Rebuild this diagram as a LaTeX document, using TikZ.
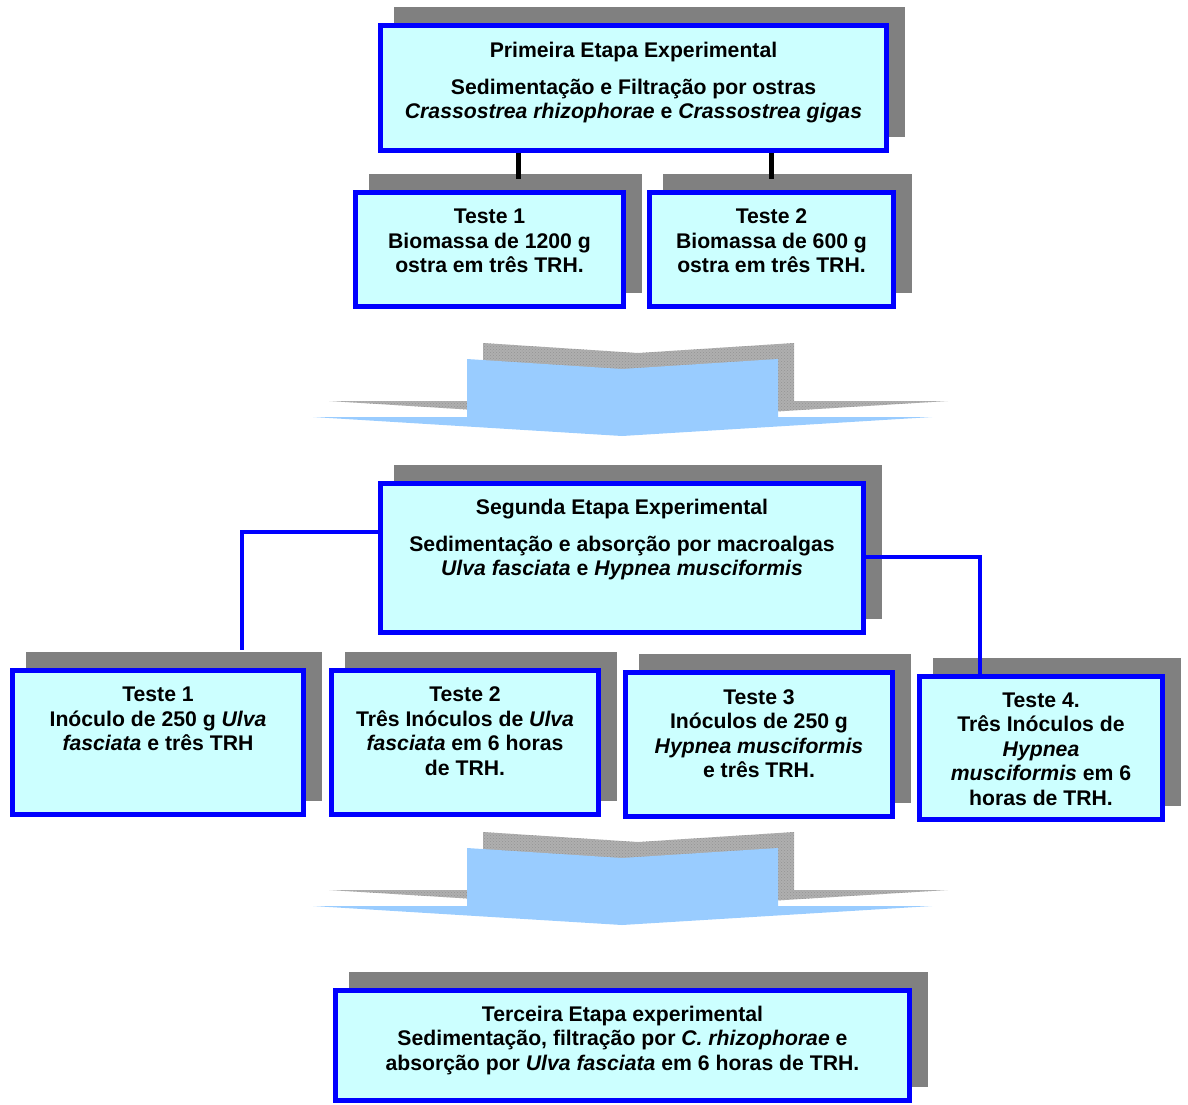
\documentclass[tikz,border=0pt]{standalone}
\usepackage{fontspec}
\setmainfont{Liberation Sans}
\usetikzlibrary{shadows,patterns}
\definecolor{bxblue}{RGB}{0,0,255}
\definecolor{bxfill}{RGB}{204,255,255}
\definecolor{shgray}{RGB}{128,128,128}
\definecolor{arblue}{RGB}{153,204,255}
\definecolor{argray}{RGB}{175,175,175}
\begin{document}
\begin{tikzpicture}[x=1pt,y=-1pt,
  stagebox/.style={rectangle, draw=bxblue, fill=bxfill, line width=5pt, inner sep=0pt,
     general shadow={draw=shgray, fill=shgray, shadow xshift=16pt, shadow yshift=16pt}},
  boxtext/.style={anchor=base, inner sep=0pt, font=\fontsize{21.2}{24.5}\selectfont\bfseries},
  blackconn/.style={draw=black, line width=5pt},
  blueconn/.style={draw=bxblue, line width=4.5pt},
  arrowshadow/.style={fill=argray},
  arrowdots/.style={pattern=crosshatch dots, pattern color=gray!85},
  arrowbody/.style={fill=arblue}
]
\useasboundingbox (0,0) rectangle (1188,1104);

% big downward arrows
\foreach \dy in {0,489} {
  \begin{scope}[shift={(0,\dy)}]
    \fill[arrowshadow] (483,343) -- (638,353) -- (794,343) -- (794,401) -- (948,401) -- (638,420) -- (329,401) -- (483,401) -- cycle;
    \fill[arrowdots] (483,343) -- (638,353) -- (794,343) -- (794,401) -- (948,401) -- (638,420) -- (329,401) -- (483,401) -- cycle;
    \fill[arrowbody] (467,359) -- (622,369) -- (778,359) -- (778,417) -- (932,417) -- (622,436) -- (313,417) -- (467,417) -- cycle;
  \end{scope}
}

% boxes
\node[stagebox, minimum width=506pt, minimum height=125pt] (p1) at (633.5,88) {};
\node[stagebox, minimum width=268pt, minimum height=114pt] (a1) at (489.5,249.5) {};
\node[stagebox, minimum width=244pt, minimum height=114pt] (a2) at (771.5,249.5) {};
\node[stagebox, minimum width=483pt, minimum height=149pt] (p2) at (622,558) {};
\node[stagebox, minimum width=291pt, minimum height=144pt] (b1) at (158,742.5) {};
\node[stagebox, minimum width=267pt, minimum height=144pt] (b2) at (465,742.5) {};
\node[stagebox, minimum width=267pt, minimum height=144pt] (b3) at (759,744.5) {};
\node[stagebox, minimum width=243pt, minimum height=143pt] (b4) at (1041,748) {};
\node[stagebox, minimum width=574pt, minimum height=110pt] (p3) at (622.5,1045.5) {};

% connectors
\coordinate (ca1) at (518,179);
\coordinate (ca2) at (771,179);
\draw[blackconn] (p1.south -| ca1) -- (ca1);
\draw[blackconn] (p1.south -| ca2) -- (ca2);
\coordinate (lk) at (242,532);
\coordinate (lend) at (242,650);
\draw[blueconn] (p2.west |- lk) -- (lk) -- (lend);
\coordinate (rk) at (980,557);
\draw[blueconn] (p2.east |- rk) -- (rk) -- (b4.north -| rk);

% texts
\node[boxtext] (p1t) at (p1.north |- 0,57) {\begin{tabular}[t]{@{}c@{}}Primeira Etapa Experimental\\[12.5pt]
Sedimentação e Filtração por ostras\\
\textit{Crassostrea rhizophorae} e \textit{Crassostrea gigas}\end{tabular}};
\node[boxtext] (a1t) at (a1.north |- 0,223.5) {\begin{tabular}[t]{@{}c@{}}Teste 1\\ Biomassa de 1200 g\\ ostra em três TRH.\end{tabular}};
\node[boxtext] (a2t) at (a2.north |- 0,223.5) {\begin{tabular}[t]{@{}c@{}}Teste 2\\ Biomassa de 600 g\\ ostra em três TRH.\end{tabular}};
\node[boxtext] (p2t) at (p2.north |- 0,514) {\begin{tabular}[t]{@{}c@{}}Segunda Etapa Experimental\\[12.5pt]
Sedimentação e absorção por macroalgas\\
\textit{Ulva fasciata} e \textit{Hypnea musciformis}\end{tabular}};
\node[boxtext] (b1t) at (b1.north |- 0,701.6) {\begin{tabular}[t]{@{}c@{}}Teste 1\\ Inóculo de 250 g \textit{Ulva}\\ \textit{fasciata} e três TRH\end{tabular}};
\node[boxtext] (b2t) at (b2.north |- 0,701.6) {\begin{tabular}[t]{@{}c@{}}Teste 2\\ Três Inóculos de \textit{Ulva}\\ \textit{fasciata} em 6 horas\\ de TRH.\end{tabular}};
\node[boxtext] (b3t) at (b3.north |- 0,704) {\begin{tabular}[t]{@{}c@{}}Teste 3\\ Inóculos de 250 g\\ \textit{Hypnea musciformis}\\ e três TRH.\end{tabular}};
\node[boxtext] (b4t) at (b4.north |- 0,707) {\begin{tabular}[t]{@{}c@{}}Teste 4.\\ Três Inóculos de\\ \textit{Hypnea}\\ \textit{musciformis} em 6\\ horas de TRH.\end{tabular}};
\node[boxtext] (p3t) at (p3.north |- 0,1021) {\begin{tabular}[t]{@{}c@{}}Terceira Etapa experimental\\
Sedimentação, filtração por \textit{C. rhizophorae} e\\
absorção por \textit{Ulva fasciata} em 6 horas de TRH.\end{tabular}};
\end{tikzpicture}
\end{document}
